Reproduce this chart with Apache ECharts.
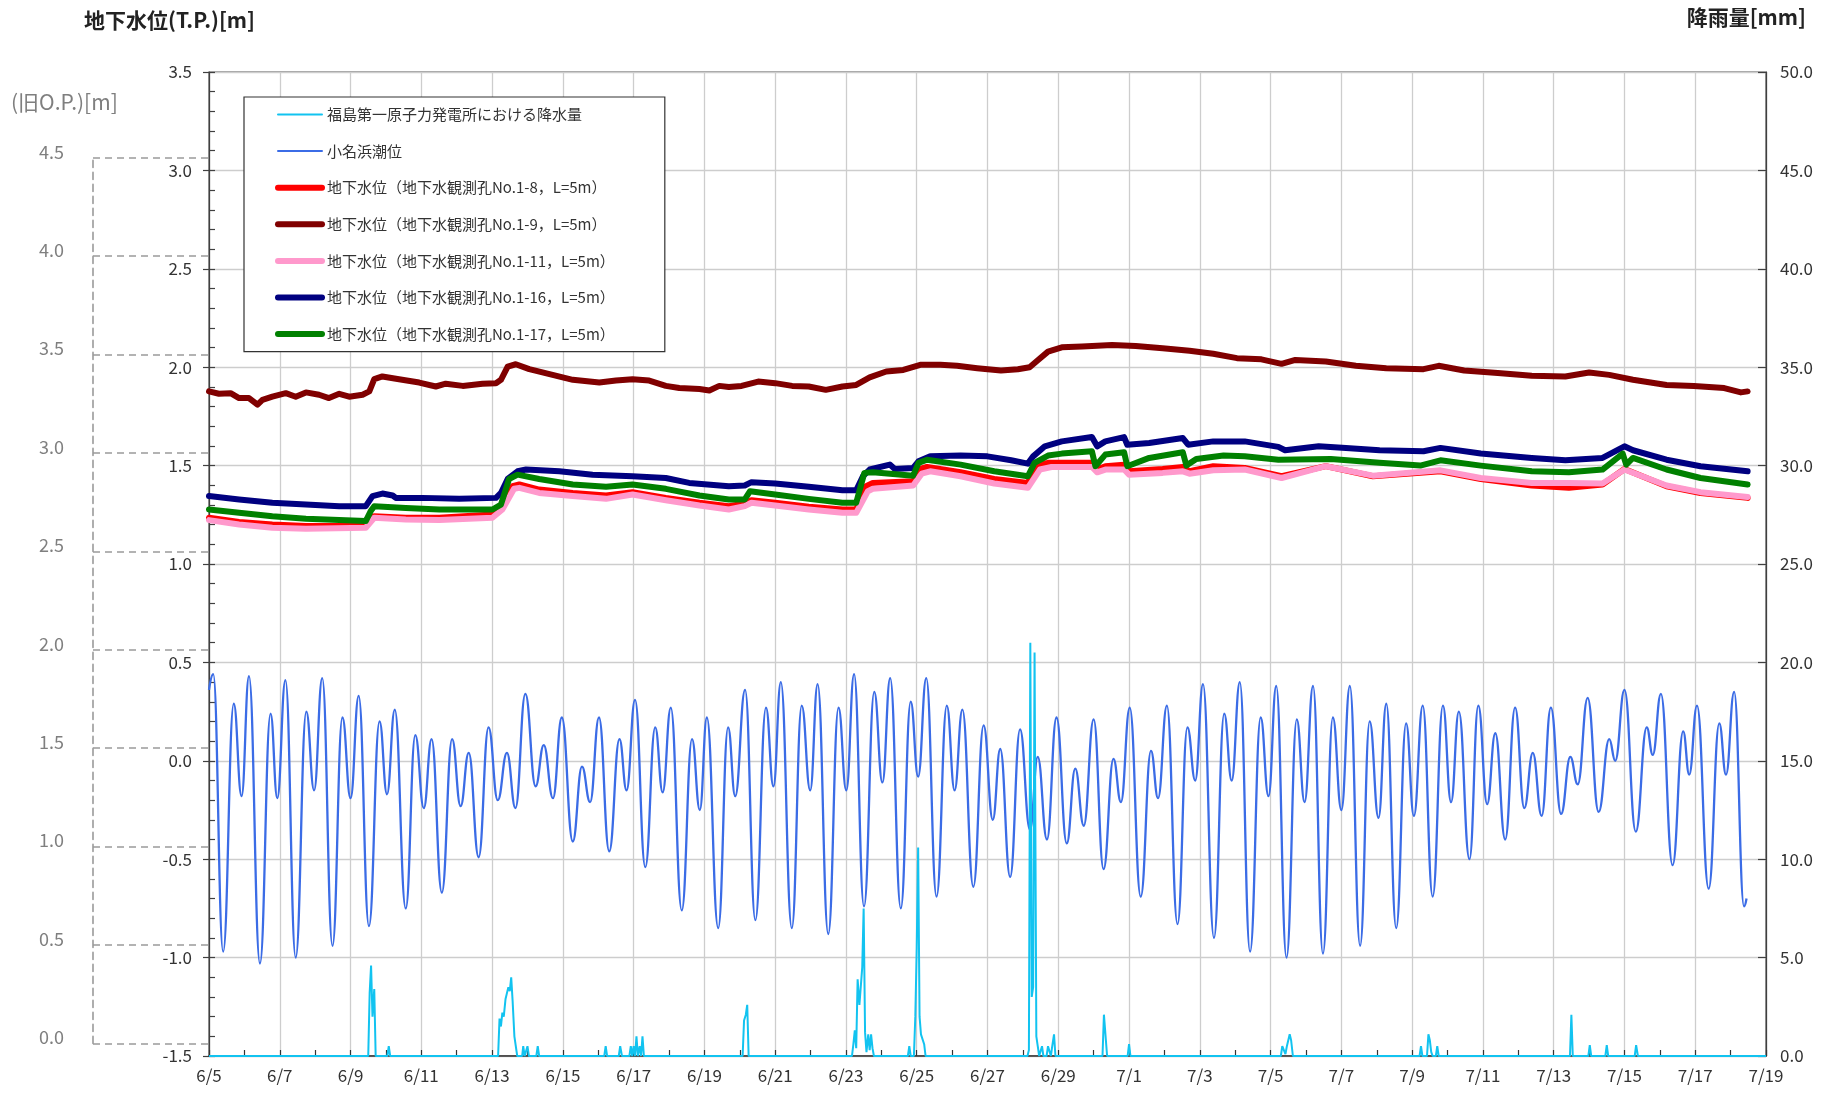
<!DOCTYPE html>
<html>
<head>
<meta charset="utf-8">
<script src="https://cdn.jsdelivr.net/npm/echarts@6/dist/echarts.min.js"></script>
<style>
html,body{margin:0;padding:0;background:#fff;}
#chart{width:1838px;height:1094px;}
</style>
</head>
<body>
<div id="chart"></div>
<script>
// ---------- DATA (days since 6/5 00:00) ----------
const xTickDays = [0,2,4,6,8,10,12,14,16,18,20,22,24,26,28,30,32,34,36,38,40,42,44];

// 小名浜潮位 (T.P. m) – read at each high / low water
const tideDay = [0.00,0.12,0.40,0.70,0.92,1.13,1.44,1.74,1.93,2.16,2.45,2.75,2.97,3.20,3.49,3.77,4.00,4.23,4.52,4.82,5.03,5.25,5.56,5.83,6.07,6.29,6.58,6.87,7.11,7.34,7.62,7.90,8.16,8.42,8.66,8.94,9.23,9.46,9.72,9.97,10.28,10.54,10.77,11.02,11.31,11.60,11.80,12.04,12.33,12.61,12.82,13.05,13.36,13.65,13.87,14.07,14.39,14.67,14.87,15.15,15.44,15.74,15.95,16.16,16.47,16.75,16.99,17.20,17.50,17.79,18.01,18.23,18.51,18.80,19.03,19.25,19.55,19.83,20.04,20.27,20.56,20.85,21.07,21.29,21.60,21.89,22.15,22.36,22.64,22.92,23.20,23.42,23.68,23.95,24.24,24.48,24.72,25.00,25.28,25.56,25.77,26.02,26.33,26.62,26.82,27.07,27.37,27.65,27.87,28.09,28.40,28.69,28.90,29.13,29.42,29.72,29.94,30.16,30.45,30.74,30.96,31.20,31.48,31.76,32.00,32.24,32.53,32.80,33.05,33.27,33.55,33.83,34.05,34.30,34.58,34.87,35.10,35.32,35.62,35.87,36.12,36.35,36.63,36.91,37.17,37.41,37.66,37.92,38.21,38.47,38.68,38.96,39.27,39.57,39.74,40.00,40.32,40.63,40.80,41.03,41.36,41.66,41.83,42.05,42.38,42.68,42.87,43.10,43.38,43.45];
const tideLevel = [0.36,0.44,-0.97,0.29,-0.18,0.43,-1.03,0.24,-0.19,0.41,-1.00,0.25,-0.15,0.42,-0.94,0.22,-0.19,0.33,-0.84,0.20,-0.17,0.26,-0.75,0.13,-0.24,0.11,-0.67,0.11,-0.23,0.04,-0.49,0.17,-0.20,0.04,-0.24,0.34,-0.13,0.08,-0.19,0.22,-0.41,-0.03,-0.21,0.22,-0.46,0.11,-0.15,0.31,-0.54,0.17,-0.16,0.27,-0.76,0.11,-0.25,0.22,-0.85,0.17,-0.18,0.36,-0.81,0.27,-0.13,0.40,-0.85,0.28,-0.15,0.39,-0.88,0.27,-0.15,0.44,-0.74,0.35,-0.11,0.42,-0.75,0.30,-0.08,0.42,-0.69,0.28,-0.15,0.26,-0.64,0.18,-0.30,0.06,-0.59,0.16,-0.35,0.02,-0.40,0.22,-0.42,-0.04,-0.33,0.21,-0.55,0.01,-0.21,0.27,-0.69,0.05,-0.19,0.28,-0.83,0.17,-0.10,0.39,-0.90,0.24,-0.10,0.40,-0.97,0.22,-0.18,0.38,-1.00,0.21,-0.21,0.38,-0.98,0.22,-0.25,0.38,-0.94,0.20,-0.29,0.29,-0.85,0.19,-0.28,0.28,-0.69,0.28,-0.21,0.25,-0.50,0.28,-0.22,0.14,-0.40,0.27,-0.24,0.04,-0.28,0.27,-0.27,0.02,-0.12,0.32,-0.26,0.11,0.00,0.36,-0.36,0.17,0.03,0.34,-0.53,0.15,-0.07,0.28,-0.65,0.19,-0.07,0.35,-0.74,-0.70];

// 福島第一原子力発電所における降水量 (mm, hourly)
const rainDay = [0,4.50,4.54,4.58,4.62,4.67,4.71,5.04,5.08,5.12,8.17,8.21,8.25,8.29,8.33,8.38,8.42,8.46,8.50,8.54,8.58,8.63,8.67,8.71,8.85,8.88,8.92,8.96,9.00,9.04,9.25,9.29,9.33,11.17,11.21,11.25,11.58,11.62,11.67,11.88,11.92,11.96,12.00,12.04,12.08,12.12,12.17,12.21,12.25,12.29,15.08,15.12,15.17,15.21,15.25,18.17,18.21,18.25,18.29,18.33,18.38,18.42,18.46,18.50,18.54,18.58,18.63,18.67,18.71,18.75,18.79,19.75,19.79,19.83,19.92,19.96,20.00,20.04,20.08,20.12,20.17,20.21,20.25,23.13,23.17,23.21,23.25,23.29,23.33,23.38,23.42,23.46,23.50,23.54,23.58,23.67,23.71,23.75,23.79,23.83,23.88,23.92,25.25,25.29,25.33,25.38,25.96,26.00,26.04,30.29,30.33,30.38,30.42,30.46,30.50,30.54,30.58,30.63,34.21,34.25,34.29,34.42,34.46,34.50,34.54,34.58,34.67,34.71,34.75,38.46,38.50,38.54,38.98,39.02,39.06,39.46,39.50,39.54,40.29,40.33,40.38,44];
const rainMM = [0,0,3.2,4.6,2.0,3.4,0,0,0.5,0,0,1.9,1.5,2.2,2.0,2.9,3.0,3.5,3.3,4.0,2.8,1.0,1.0,0,0,0.5,0,0,0.5,0,0,0.5,0,0,0.5,0,0,0.5,0,0,0.5,0,0.5,0,1.0,0,0.5,0,1.0,0,0,1.8,2.1,2.6,0,0,0.6,1.3,0.4,3.9,2.6,2.6,4.5,7.5,1.2,0.2,1.1,0.3,1.1,0.4,0,0,0.5,0,0,2.0,5.5,10.6,2.0,1.1,1.1,0.6,0,0,0.3,21.0,3.0,3.5,20.5,1.0,0.5,0,0,0.5,0,0,0.5,0.5,0,0.5,1.1,0,0,2.1,2.1,0,0,0.6,0,0,0.5,0.5,0.1,0.5,0.8,1.1,0.8,0,0,0.5,0,0,1.1,0.8,0.2,0,0,0.5,0,0,2.1,0,0,0.55,0,0,0.55,0,0,0.55,0,0];

// 地下水位 No.1-8 (T.P. m)
const gw18Day = [0,0.85,1.79,2.74,4.43,4.67,5.56,6.51,8.01,8.29,8.58,8.77,9.33,10.28,11.22,11.97,12.91,13.86,14.69,15.14,15.33,16.00,16.95,17.90,18.29,18.57,18.76,19.90,20.10,20.29,21.24,22.19,23.14,23.43,23.71,24.95,25.10,25.33,25.86,26.00,26.95,27.52,27.71,28.38,29.27,30.31,31.56,32.89,34.80,35.94,37.38,38.43,39.38,40.00,41.19,42.15,43.48];
const gw18Val = [1.235,1.213,1.201,1.193,1.193,1.243,1.235,1.235,1.252,1.294,1.395,1.404,1.378,1.361,1.348,1.365,1.336,1.311,1.294,1.307,1.324,1.311,1.291,1.277,1.277,1.395,1.412,1.420,1.483,1.493,1.466,1.432,1.412,1.505,1.514,1.514,1.480,1.497,1.505,1.471,1.483,1.493,1.471,1.497,1.488,1.446,1.497,1.446,1.471,1.432,1.399,1.387,1.404,1.483,1.395,1.361,1.336];

// 地下水位 No.1-9
const gw19Day = [0,0.28,0.61,0.85,1.13,1.37,1.51,1.79,2.17,2.45,2.74,3.11,3.39,3.68,3.96,4.34,4.53,4.67,4.90,5.37,5.94,6.41,6.69,7.17,7.73,8.11,8.25,8.44,8.67,9.05,9.71,10.28,11.03,11.50,11.97,12.44,12.91,13.29,13.86,14.14,14.42,14.69,15.05,15.52,16.00,16.48,16.95,17.43,17.90,18.29,18.67,19.14,19.62,20.10,20.67,21.14,21.71,22.38,22.86,23.19,23.43,23.71,24.10,24.67,25.52,26.19,26.95,27.71,28.38,29.05,29.74,30.31,30.70,31.56,32.41,33.27,34.32,34.75,35.47,36.42,37.38,38.33,39.00,39.57,40.24,41.19,41.96,42.82,43.29,43.48];
const gw19Val = [1.877,1.865,1.868,1.843,1.843,1.810,1.834,1.850,1.868,1.850,1.872,1.860,1.843,1.865,1.850,1.860,1.877,1.939,1.953,1.939,1.922,1.902,1.916,1.905,1.916,1.919,1.936,2.003,2.015,1.990,1.961,1.936,1.922,1.932,1.939,1.932,1.905,1.894,1.889,1.882,1.905,1.899,1.905,1.927,1.919,1.905,1.902,1.885,1.902,1.910,1.948,1.978,1.986,2.012,2.012,2.007,1.995,1.983,1.990,2.000,2.037,2.079,2.101,2.105,2.113,2.108,2.096,2.084,2.068,2.046,2.040,2.017,2.037,2.029,2.007,1.995,1.990,2.007,1.983,1.970,1.956,1.953,1.973,1.961,1.936,1.910,1.905,1.894,1.872,1.877];

// 地下水位 No.1-11
const gw111Day = [0,0.85,1.79,2.74,4.43,4.67,5.56,6.51,8.01,8.29,8.62,8.77,9.33,10.28,11.22,11.97,12.91,13.86,14.69,15.14,15.33,16.00,16.95,17.90,18.29,18.62,18.76,19.90,20.14,20.38,21.24,22.19,23.14,23.48,23.81,24.95,25.10,25.33,25.86,26.00,26.95,27.52,27.71,28.38,29.27,30.31,31.56,32.89,34.80,35.94,37.38,38.43,39.38,40.00,41.19,42.15,43.48];
const gw111Val = [1.223,1.201,1.184,1.179,1.184,1.235,1.226,1.223,1.235,1.277,1.382,1.387,1.361,1.345,1.331,1.353,1.324,1.297,1.277,1.294,1.311,1.297,1.277,1.260,1.260,1.370,1.382,1.399,1.459,1.471,1.446,1.409,1.387,1.480,1.493,1.493,1.466,1.480,1.480,1.454,1.463,1.471,1.459,1.476,1.480,1.437,1.497,1.449,1.476,1.437,1.412,1.412,1.409,1.480,1.399,1.365,1.341];

// 地下水位 No.1-16
const gw116Day = [0,0.85,1.79,2.74,3.68,4.43,4.62,4.90,5.19,5.28,6.03,7.07,8.11,8.25,8.44,8.72,8.96,9.90,10.84,11.97,12.91,13.57,14.69,15.14,15.33,16.00,16.95,17.90,18.29,18.48,18.67,19.24,19.38,19.90,20.05,20.38,21.24,22.00,22.67,23.14,23.29,23.62,24.10,24.95,25.10,25.33,25.86,25.95,26.57,27.52,27.67,28.38,29.27,30.22,30.41,31.36,32.13,33.08,34.32,34.80,35.94,37.38,38.33,39.38,40.00,40.24,41.19,42.15,43.48];
const gw116Val = [1.345,1.328,1.311,1.302,1.294,1.294,1.345,1.358,1.348,1.336,1.336,1.331,1.336,1.361,1.432,1.471,1.480,1.471,1.454,1.446,1.437,1.412,1.395,1.399,1.416,1.409,1.392,1.375,1.375,1.446,1.480,1.505,1.483,1.488,1.522,1.547,1.551,1.547,1.527,1.510,1.547,1.598,1.623,1.645,1.598,1.623,1.645,1.606,1.615,1.640,1.606,1.623,1.623,1.595,1.578,1.598,1.590,1.578,1.573,1.590,1.561,1.539,1.527,1.539,1.598,1.578,1.530,1.497,1.471];

// 地下水位 No.1-17
const gw117Day = [0,0.85,1.79,2.74,3.68,4.43,4.57,4.67,5.56,6.51,8.01,8.25,8.48,8.72,9.33,10.28,11.22,11.97,12.91,13.86,14.69,15.14,15.29,16.00,16.95,17.90,18.29,18.52,18.76,19.90,20.05,20.29,21.24,22.19,23.14,23.33,23.71,24.10,24.95,25.05,25.33,25.86,25.95,26.57,27.52,27.62,27.90,28.67,29.27,30.22,31.70,33.08,34.23,34.80,35.94,37.38,38.43,39.38,39.95,40.05,40.24,41.19,42.15,43.48];
const gw117Val = [1.277,1.260,1.243,1.230,1.223,1.218,1.269,1.294,1.285,1.277,1.277,1.302,1.432,1.454,1.432,1.404,1.392,1.404,1.382,1.348,1.328,1.328,1.370,1.353,1.331,1.311,1.311,1.463,1.466,1.449,1.514,1.530,1.505,1.471,1.446,1.514,1.551,1.561,1.573,1.497,1.556,1.568,1.497,1.539,1.568,1.500,1.534,1.551,1.547,1.530,1.534,1.514,1.500,1.527,1.500,1.471,1.466,1.480,1.561,1.505,1.539,1.480,1.437,1.404];

const names = ['福島第一原子力発電所における降水量','小名浜潮位','地下水位（地下水観測孔No.1-8，L=5m）','地下水位（地下水観測孔No.1-9，L=5m）','地下水位（地下水観測孔No.1-11，L=5m）','地下水位（地下水観測孔No.1-16，L=5m）','地下水位（地下水観測孔No.1-17，L=5m）'];
const OP_OFFSET = 1.436; // 旧O.P. = T.P. + 1.436

// ---------- LAYOUT ----------
const W = 1838, H = 1094;
const G = {left: 209, right: 72, top: 72, bottom: 38};
const TP_MIN = -1.5, TP_MAX = 3.5;
const plotH = H - G.top - G.bottom;
const OP_MIN = 0, OP_MAX = 4.5;
const opTop = G.top + (TP_MAX - (OP_MAX - OP_OFFSET)) / (TP_MAX - TP_MIN) * plotH;
const opBottom = G.bottom + ((OP_MIN - OP_OFFSET) - TP_MIN) / (TP_MAX - TP_MIN) * plotH;
const OP_LEFT = 93;

const FONT = "'Noto Sans CJK JP','Noto Sans',sans-serif";
const zip = (a, b) => a.map((v, i) => [v, b[i]]);
function dayLabel(v) {
  const d = 5 + Math.round(v);
  return d <= 30 ? '6/' + d : '7/' + (d - 30);
}

const chart = echarts.init(document.getElementById('chart'), null, {renderer: 'canvas', width: W, height: H});

const gwStyle = (c, w) => ({type: 'line', xAxisIndex: 0, yAxisIndex: 0, symbol: 'none', showSymbol: false,
  lineStyle: {color: c, width: w, cap: 'round', join: 'round'}, itemStyle: {color: c}, silent: true, animation: false});

const option = {
  backgroundColor: '#fff',
  animation: false,
  textStyle: {fontFamily: FONT},
  title: [
    {text: '地下水位(T.P.)[m]', left: 84, top: 10, padding: 0, textStyle: {fontFamily: FONT, fontSize: 21, fontWeight: 'bold', color: '#222'}},
    {text: '(旧O.P.)[m]', left: 11, top: 92, padding: 0, textStyle: {fontFamily: FONT, fontSize: 21, fontWeight: 'normal', color: '#7f7f7f'}},
    {text: '降雨量[mm]', right: 32, top: 7, padding: 0, textStyle: {fontFamily: FONT, fontSize: 21, fontWeight: 'bold', color: '#222'}}
  ],
  grid: [
    {left: G.left, right: G.right, top: G.top, bottom: G.bottom, show: true, borderColor: '#404040', borderWidth: 1.2, containLabel: false},
    {left: OP_LEFT, right: W - G.left, top: opTop, bottom: opBottom, show: false, containLabel: false}
  ],
  legend: {
    orient: 'vertical', left: 244, top: 97,
    itemWidth: 44, itemHeight: 16, itemGap: 21.6,
    padding: [10, 50, 10, 31],
    backgroundColor: '#fff', borderColor: '#333', borderWidth: 1.2,
    itemStyle: {opacity: 0},
    textStyle: {fontFamily: FONT, fontSize: 15, color: '#333'},
    selectedMode: false,
    data: names.map((n, i) => ({name: n, lineStyle: {width: i < 2 ? 2 : 6, cap: 'round'}}))
  },
  xAxis: [
    {
      type: 'value', gridIndex: 0, min: 0, max: 44, interval: 2,
      axisLine: {show: true, onZero: false, lineStyle: {color: '#333', width: 1.5}},
      axisTick: {show: true, inside: true, length: 6, lineStyle: {color: '#333', width: 1.2}},
      minorTick: {show: true, splitNumber: 2, length: 6, lineStyle: {color: '#333', width: 1.2}},
      axisLabel: {show: true, margin: 11, fontSize: 17, color: '#333', fontFamily: FONT, formatter: v => dayLabel(v)},
      splitLine: {show: true, lineStyle: {color: '#cdcdcd', width: 1.3}}
    },
    {type: 'value', gridIndex: 1, min: 0, max: 1, show: false, axisLine: {onZero: false}}
  ],
  yAxis: [
    {
      type: 'value', gridIndex: 0, position: 'left', min: TP_MIN, max: TP_MAX, interval: 0.5,
      axisLine: {show: true, onZero: false, lineStyle: {color: '#404040', width: 1.2}},
      axisTick: {show: true, inside: false, length: 6, lineStyle: {color: '#404040', width: 1.2}},
      axisLabel: {show: true, margin: 17, fontSize: 17, color: '#333', fontFamily: FONT, formatter: v => v.toFixed(1)},
      splitLine: {show: true, lineStyle: {color: '#cdcdcd', width: 1.3}}
    },
    {
      type: 'value', gridIndex: 0, position: 'right', min: 0, max: 50, interval: 5,
      axisLine: {show: true, onZero: false, lineStyle: {color: '#404040', width: 1.2}},
      axisTick: {show: true, inside: true, length: 8, lineStyle: {color: '#404040', width: 1.2}},
      axisLabel: {show: true, margin: 14, fontSize: 17, color: '#333', fontFamily: FONT, formatter: v => v.toFixed(1)},
      splitLine: {show: false}
    },
    {
      type: 'value', gridIndex: 0, position: 'left', min: TP_MIN, max: TP_MAX, interval: 0.1,
      axisLine: {show: false, onZero: false},
      axisTick: {show: true, inside: true, length: 6, lineStyle: {color: '#404040', width: 1.2}},
      axisLabel: {show: false},
      splitLine: {show: false}
    },
    {
      type: 'value', gridIndex: 1, position: 'left', min: OP_MIN, max: OP_MAX, interval: 0.5,
      axisLine: {show: true, onZero: false, lineStyle: {color: '#9a9a9a', width: 1.6, type: [7, 5]}},
      axisTick: {show: true, inside: true, length: G.left - OP_LEFT, lineStyle: {color: '#9a9a9a', width: 1.6, type: [7, 5]}},
      axisLabel: {show: true, margin: 29, fontSize: 18, color: '#7f7f7f', fontFamily: FONT, verticalAlign: 'bottom', lineHeight: 12, formatter: v => v.toFixed(1)},
      splitLine: {show: false}
    }
  ],
  series: [
    {name: names[0], type: 'line', xAxisIndex: 0, yAxisIndex: 1, symbol: 'none', showSymbol: false, z: 3,
      lineStyle: {color: '#12c3f0', width: 2}, itemStyle: {color: '#12c3f0'}, data: zip(rainDay, rainMM)},
    {name: names[1], type: 'line', xAxisIndex: 0, yAxisIndex: 0, symbol: 'none', showSymbol: false, z: 2,
      smooth: 0.45, smoothMonotone: 'x',
      lineStyle: {color: '#3b6ce6', width: 2.3}, itemStyle: {color: '#3b6ce6'}, data: zip(tideDay, tideLevel)},
    Object.assign(gwStyle('#ff0000', 6), {name: names[2], data: zip(gw18Day, gw18Val)}),
    Object.assign(gwStyle('#800000', 6), {name: names[3], data: zip(gw19Day, gw19Val)}),
    Object.assign(gwStyle('#ff99cc', 6), {name: names[4], data: zip(gw111Day, gw111Val)}),
    Object.assign(gwStyle('#000080', 6), {name: names[5], data: zip(gw116Day, gw116Val)}),
    Object.assign(gwStyle('#008000', 6), {name: names[6], data: zip(gw117Day, gw117Val)})
  ]
};
chart.setOption(option);
</script>
</body>
</html>
